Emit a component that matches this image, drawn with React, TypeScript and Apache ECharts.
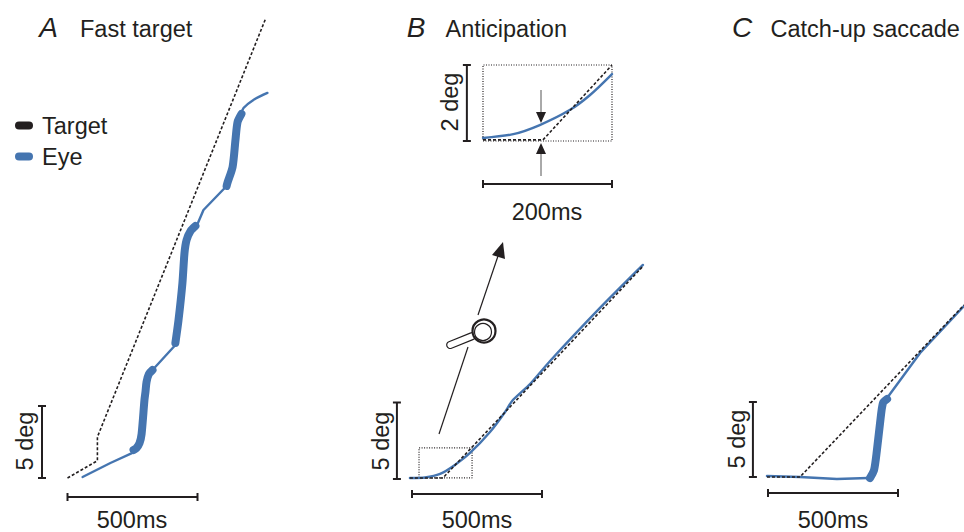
import React, { useEffect, useRef } from "react";
import * as echarts from "echarts";

// Data (time in ms, position in deg)
const aTargetMs = [0, 115, 115, 762];
const aTargetDeg = [0, 1.2, 2.85, 31.9];
const aThin1Ms = [58, 165, 250, 254];
const aThin1Deg = [0.07, 1.04, 1.74, 1.94];
const aThick1Ms = [254, 265, 277, 285, 296, 300, 304, 313, 327];
const aThick1Deg = [1.94, 2.08, 2.43, 3.06, 5.42, 6.0, 6.67, 7.22, 7.5];
const aThin2Ms = [327, 415];
const aThin2Deg = [7.5, 9.24];
const aThick2Ms = [415, 427, 442, 450, 458, 473, 492];
const aThick2Deg = [9.38, 10.97, 13.54, 15.63, 16.53, 17.15, 17.5];
const aThin3Ms = [492, 500, 523, 612];
const aThin3Deg = [17.5, 17.64, 18.61, 20.28];
const aThick3Ms = [612, 615, 635, 646, 654, 669];
const aThick3Deg = [20.28, 20.49, 21.6, 23.47, 24.72, 25.28];
const aThin4Ms = [669, 677, 715, 769];
const aThin4Deg = [25.28, 25.69, 26.25, 26.74];

const bTargetMs = [-8, 119, 888];
const bTargetDeg = [0.07, 0.07, 13.9];
const bEyeMs = [-8, 50, 108, 165, 223, 300, 358, 385, 454, 531, 723, 888];
const bEyeDeg = [0.07, 0.1, 0.33, 0.92, 1.7, 3.07, 4.38, 5.1, 6.2, 7.71, 11.18, 13.99];
const bBoxMs = [27, 231, 231, 27, 27];
const bBoxDeg = [0.07, 0.07, 2.03, 2.03, 0.07];

const insetTargetMs = [0, 93, 200];
const insetTargetDeg = [0.03, 0.03, 2];
const insetEyeMs = [0, 47, 88, 135, 166, 200];
const insetEyeDeg = [0.08, 0.18, 0.42, 0.82, 1.21, 1.76];
const insetBoxMs = [0, 200, 200, 0, 0];
const insetBoxDeg = [0, 0, 2, 2, 0];

const cTargetMs = [-4, 123, 754];
const cTargetDeg = [0, 0, 11.47];
const cThin1Ms = [-4, 123, 265, 385, 392];
const cThin1Deg = [0.07, 0, -0.13, -0.07, -0.07];
const cThickMs = [392, 408, 419, 431, 442, 458];
const cThickDeg = [-0.07, 0.47, 1.8, 3.6, 4.93, 5.2];
const cThin2Ms = [458, 585, 754];
const cThin2Deg = [5.27, 8.27, 11.4];

const barMs500 = [0, 500];
const barMs200 = [0, 200];
const barDeg5 = [0, 5];
const barDeg2 = [0, 2];

const legendNames = ["Target", "Eye"];
const titles = [
  { letter: "A", name: "Fast target" },
  { letter: "B", name: "Anticipation" },
  { letter: "C", name: "Catch-up saccade" },
];

const W = 964;
const H = 532;
const BLUE = "#4575b0";
const DARK = "#231f20";
const FONT = '"Liberation Sans", Arial, sans-serif';

const panels = [
  { x0: 67.5, y0: 478, sx: 0.26, sy: 14.4 },
  { x0: 412, y0: 479, sx: 0.26, sy: 15.3 },
  { x0: 768, y0: 477, sx: 0.26, sy: 15 },
  { x0: 483, y0: 141, sx: 0.645, sy: 38 },
];

const zip = (a: number[], b: number[]) => a.map((v, i) => [v, b[i]]);

const eye = (p: number, ms: number[], deg: number[], width: number, smooth = 0) => ({
  type: "line",
  name: "Eye",
  xAxisIndex: p,
  yAxisIndex: p,
  data: zip(ms, deg),
  symbol: "none",
  smooth,
  clip: false,
  z: 3,
  itemStyle: { color: BLUE },
  lineStyle: { color: BLUE, width, cap: "round", join: "round" },
});
const target = (p: number, ms: number[], deg: number[]) => ({
  type: "line",
  name: "Target",
  xAxisIndex: p,
  yAxisIndex: p,
  data: zip(ms, deg),
  symbol: "none",
  clip: false,
  z: 4,
  itemStyle: { color: DARK },
  lineStyle: { color: DARK, width: 1.6, type: [3, 2] },
});
const box = (p: number, ms: number[], deg: number[]) => ({
  type: "line",
  name: "Zoom box",
  xAxisIndex: p,
  yAxisIndex: p,
  data: zip(ms, deg),
  symbol: "none",
  clip: false,
  z: 2,
  lineStyle: { color: DARK, width: 1.2, type: [1, 1.5] },
});
const scaleBar = (p: number, ms: number[], deg: number[], vertical: boolean) => ({
  type: "line",
  name: "Scale",
  xAxisIndex: p,
  yAxisIndex: p,
  data: zip(ms, deg),
  symbol: "rect",
  symbolSize: vertical ? [8, 2] : [2, 8],
  showAllSymbol: true,
  clip: false,
  z: 2,
  itemStyle: { color: DARK },
  lineStyle: { color: DARK, width: 2 },
});

const txt = (text: string, x: number, y: number, size = 23.5, extra: any = {}) => ({
  type: "text",
  x,
  y,
  style: {
    text,
    fontSize: size,
    fontFamily: FONT,
    fill: DARK,
    textAlign: "center",
    textVerticalAlign: "middle",
    ...extra,
  },
});
const vtxt = (text: string, x: number, y: number) => ({
  ...txt(text, x, y),
  rotation: Math.PI / 2,
});
const ln = (x1: number, y1: number, x2: number, y2: number, w = 1, color = DARK) => ({
  type: "line",
  shape: { x1, y1, x2, y2 },
  style: { stroke: color, lineWidth: w },
});
const tri = (points: number[][]) => ({
  type: "polygon",
  shape: { points },
  style: { fill: DARK },
});

export default function App() {
  const ref = useRef<HTMLDivElement>(null);
  useEffect(() => {
    if (!ref.current) return;
    const chart = echarts.init(ref.current, undefined, { renderer: "svg" });
    const [pA, pB, pC, pI] = [0, 1, 2, 3];
    const swatchLine = { width: 8, type: "solid", cap: "round" };
    chart.setOption({
      animation: false,
      backgroundColor: "#ffffff",
      grid: panels.map(() => ({ left: 0, top: 0, width: W, height: H })),
      xAxis: panels.map((p) => ({
        type: "value",
        show: false,
        min: -p.x0 / p.sx,
        max: (W - p.x0) / p.sx,
      })),
      yAxis: panels.map((p) => ({
        type: "value",
        show: false,
        min: (p.y0 - H) / p.sy,
        max: p.y0 / p.sy,
      })),
      legend: {
        orient: "vertical",
        left: 15,
        top: 112,
        padding: 0,
        itemWidth: 10,
        itemHeight: 8,
        itemGap: 4,
        selectedMode: false,
        data: [
          { name: legendNames[0], lineStyle: swatchLine, itemStyle: { color: DARK } },
          { name: legendNames[1], lineStyle: swatchLine, itemStyle: { color: BLUE } },
        ],
        textStyle: {
          fontFamily: FONT,
          fontSize: 23.5,
          color: DARK,
          padding: [0, 0, 0, 8],
          lineHeight: 27,
        },
      },
      series: [
        target(pA, aTargetMs, aTargetDeg),
        eye(pA, aThin1Ms, aThin1Deg, 2.4),
        eye(pA, aThick1Ms, aThick1Deg, 8, 0.25),
        eye(pA, aThin2Ms, aThin2Deg, 2.4),
        eye(pA, aThick2Ms, aThick2Deg, 8, 0.25),
        eye(pA, aThin3Ms, aThin3Deg, 2.4),
        eye(pA, aThick3Ms, aThick3Deg, 8, 0.25),
        eye(pA, aThin4Ms, aThin4Deg, 2.4, 0.3),
        scaleBar(pA, barMs500, [-1.32, -1.32], false),
        scaleBar(pA, [-98, -98], barDeg5, true),

        target(pB, bTargetMs, bTargetDeg),
        eye(pB, bEyeMs, bEyeDeg, 2.4, 0.2),
        box(pB, bBoxMs, bBoxDeg),
        scaleBar(pB, barMs500, [-0.98, -0.98], false),
        scaleBar(pB, [-58, -58], barDeg5, true),

        target(pI, insetTargetMs, insetTargetDeg),
        eye(pI, insetEyeMs, insetEyeDeg, 2.4, 0.3),
        box(pI, insetBoxMs, insetBoxDeg),
        scaleBar(pI, barMs200, [-1.13, -1.13], false),
        scaleBar(pI, [-25, -25], barDeg2, true),

        target(pC, cTargetMs, cTargetDeg),
        eye(pC, cThin1Ms, cThin1Deg, 2.4),
        eye(pC, cThickMs, cThickDeg, 8, 0.25),
        eye(pC, cThin2Ms, cThin2Deg, 2.4),
        scaleBar(pC, barMs500, [-1.07, -1.07], false),
        scaleBar(pC, [-58, -58], barDeg5, true),
      ],
      graphic: {
        elements: [
          txt(titles[0].letter, 48.5, 27.5, 28, { fontStyle: "italic" }),
          txt(titles[0].name, 80, 29, 23.5, { textAlign: "left" }),
          txt(titles[1].letter, 416, 27.5, 28, { fontStyle: "italic" }),
          txt(titles[1].name, 445.5, 29, 23.5, { textAlign: "left" }),
          txt(titles[2].letter, 742, 27.5, 28, { fontStyle: "italic" }),
          txt(titles[2].name, 770.5, 29, 23.5, { textAlign: "left" }),

          vtxt("5 deg", 25, 441),
          vtxt("5 deg", 381, 441),
          vtxt("5 deg", 737, 439),
          vtxt("2 deg", 450, 102),

          txt("500ms", 132, 520),
          txt("500ms", 477, 520),
          txt("500ms", 833, 520),
          txt("200ms", 547, 212),

          // inset arrows
          ln(541, 90, 541, 114, 1, "#555555"),
          tri([[541, 123], [536, 112], [546, 112]]),
          ln(541, 176, 541, 152, 1, "#555555"),
          tri([[541, 143], [536, 154], [546, 154]]),

          // magnifier arrow
          ln(439, 434, 468, 347, 1.2),
          ln(478, 315, 498, 256, 1.2),
          tri([[503, 242], [505, 259], [492, 255]]),

          // magnifier
          {
            type: "rect",
            x: 449,
            y: 346,
            rotation: (22 * Math.PI) / 180,
            shape: { x: -2, y: -4, width: 30, height: 7, r: 3.5 },
            style: { fill: "#ffffff", stroke: DARK, lineWidth: 1.2 },
          },
          {
            type: "circle",
            shape: { cx: 484, cy: 331, r: 11.5 },
            style: { fill: "#ffffff", stroke: DARK, lineWidth: 2.2 },
          },
          {
            type: "circle",
            shape: { cx: 483, cy: 332, r: 8.5 },
            style: { fill: "none", stroke: DARK, lineWidth: 1.2 },
          },
        ],
      },
    });
    return () => chart.dispose();
  }, []);
  return (
    <div
      ref={ref}
      style={{ position: "absolute", left: 0, top: 0, width: W, height: H }}
    />
  );
}
